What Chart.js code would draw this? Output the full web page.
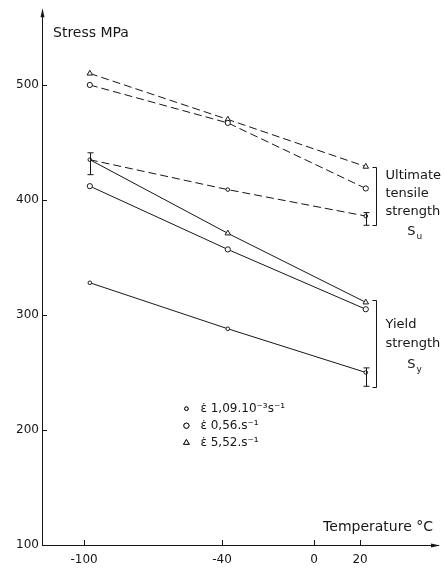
<!DOCTYPE html>
<html>
<head>
<meta charset="utf-8">
<script src="https://cdn.jsdelivr.net/npm/chart.js@4.4.1/dist/chart.umd.min.js"></script>
<style>
  html, body { margin: 0; padding: 0; background: #fff; }
  #wrap { width: 444px; height: 572px; position: relative; }
</style>
</head>
<body>
<div id="wrap"><canvas id="c" width="444" height="572"></canvas></div>
<script>
// Test temperatures (°C)
const temps = [-97.5, -37.5, 22.5];

// Ultimate tensile strength S_u (MPa), one array per strain rate
const utsLow = [435, 409, 386];   // ε̇ 1,09.10⁻³ s⁻¹
const utsMid = [500, 467, 410];   // ε̇ 0,56 s⁻¹
const utsHigh = [510, 470, 429];  // ε̇ 5,52 s⁻¹

// Yield strength S_y (MPa)
const ysLow = [328, 288, 250];
const ysMid = [412, 357, 305];
const ysHigh = [435, 371, 311];

// Scatter bands [low, high] for the slow-rate points
const utsLowBand = [[422, 441], null, [378, 389]];
const ysLowBand = [null, null, [238, 254]];

// Axis ticks
const xTicks = [-100, -40, 0, 20];
const yTicks = [100, 200, 300, 400, 500];

// Legend texts
const rateLabels = ['ε̇ 1,09.10⁻³s⁻¹', 'ε̇ 0,56.s⁻¹', 'ε̇ 5,52.s⁻¹'];

// Brackets grouping the curve families: [from, to] in MPa
const utsBracket = [378, 429];
const ysBracket = [237, 313];

const INK = '#161616';
const FONT = 'DejaVu Sans';

const pts = arr => temps.map((t, i) => ({ x: t, y: arr[i] }));

const styleLow = { pointStyle: 'circle', pointRadius: 1.8 };
const styleMid = { pointStyle: 'circle', pointRadius: 2.6 };
const styleHigh = { pointStyle: 'triangle', pointRadius: 3.2 };

function series(arr, style, dashed, extra) {
  return Object.assign({
    data: pts(arr),
    showLine: true,
    borderColor: INK,
    borderWidth: 1,
    borderDash: dashed ? [8, 4] : [],
    pointBackgroundColor: '#fff',
    pointBorderColor: INK,
    pointBorderWidth: 1,
    fill: false,
    tension: 0
  }, style, extra || {});
}

const datasets = [
  series(utsLow, styleLow, true),
  series(utsMid, styleMid, true),
  series(utsHigh, styleHigh, true),
  series(ysLow, styleLow, false),
  series(ysMid, styleMid, false),
  // the first yield point of the fast series coincides with the slow S_u point
  series(ysHigh, styleHigh, false, { pointRadius: [0, 3.2, 3.2] })
];

function bar(ctx, x, y1, y2) {
  ctx.beginPath();
  ctx.moveTo(x, y1); ctx.lineTo(x, y2);
  ctx.moveTo(x - 3, y1); ctx.lineTo(x + 3, y1);
  ctx.moveTo(x - 3, y2); ctx.lineTo(x + 3, y2);
  ctx.stroke();
}

const ink = {
  id: 'ink',
  afterDatasetsDraw(chart) {
    const { ctx, scales: { x, y }, chartArea: a } = chart;
    ctx.save();
    ctx.strokeStyle = INK;
    ctx.fillStyle = INK;
    ctx.lineWidth = 1;
    ctx.setLineDash([]);

    // scatter bands
    [utsLowBand, ysLowBand].forEach(bands => {
      bands.forEach((b, i) => {
        if (!b) return;
        const px = Math.round(x.getPixelForValue(temps[i])) + 0.5;
        bar(ctx, px, y.getPixelForValue(b[0]), y.getPixelForValue(b[1]));
      });
    });

    // brackets to the right of the last points
    const bx = Math.round(x.getPixelForValue(temps[2])) + 10.5;
    [utsBracket, ysBracket].forEach(br => {
      const y1 = Math.round(y.getPixelForValue(br[0])) + 0.5;
      const y2 = Math.round(y.getPixelForValue(br[1])) + 0.5;
      ctx.beginPath();
      ctx.moveTo(bx - 4, y1); ctx.lineTo(bx, y1); ctx.lineTo(bx, y2); ctx.lineTo(bx - 4, y2);
      ctx.stroke();
    });

    // bracket captions
    ctx.textBaseline = 'middle';
    const tx = bx + 9;
    const cap = (lines, topVal, step) => {
      let ty = y.getPixelForValue(topVal);
      lines.forEach(l => {
        ctx.font = '13px "' + FONT + '"';
        if (typeof l === 'object') {
          ctx.textAlign = 'center';
          ctx.fillText(l.main, tx + 26, ty + 2);
          ctx.font = '9px "' + FONT + '"';
          ctx.textAlign = 'left';
          ctx.fillText(l.sub, tx + 31, ty + 7);
        } else {
          ctx.textAlign = 'left';
          ctx.fillText(l, tx, ty);
          ty += step;
        }
      });
    };
    cap(['Ultimate', 'tensile', 'strength', { main: 'S', sub: 'u' }], 421, 18);
    cap(['Yield', 'strength', { main: 'S', sub: 'y' }], 292, 19);

    // legend
    const lx = x.getPixelForValue(-55.5);
    let ly = y.getPixelForValue(218.5);
    const styles = [styleLow, styleMid, styleHigh];
    ctx.font = '12px "' + FONT + '"';
    ctx.textAlign = 'left';
    rateLabels.forEach((t, i) => {
      Chart.helpers.drawPoint(ctx, {
        pointStyle: styles[i].pointStyle,
        radius: styles[i].pointRadius,
        borderWidth: 1
      }, lx, ly);
      ctx.fillStyle = '#fff';
      ctx.fill();
      ctx.fillStyle = INK;
      ctx.stroke();
      ctx.fillText(t, lx + 14, ly);
      ly += 17;
    });

    // inward tick marks
    yTicks.forEach(v => {
      const py = Math.round(y.getPixelForValue(v)) + 0.5;
      ctx.beginPath(); ctx.moveTo(a.left, py); ctx.lineTo(a.left + 5, py); ctx.stroke();
    });
    xTicks.forEach(v => {
      const px = Math.round(x.getPixelForValue(v)) + 0.5;
      ctx.beginPath(); ctx.moveTo(px, a.bottom); ctx.lineTo(px, a.bottom - 5); ctx.stroke();
    });

    // axis arrowheads
    ctx.beginPath();
    ctx.moveTo(a.left + 0.5, a.top - 2); ctx.lineTo(a.left - 1.5, a.top + 7); ctx.lineTo(a.left + 2.5, a.top + 7); ctx.closePath();
    ctx.fill();
    ctx.beginPath();
    ctx.moveTo(a.right + 2, a.bottom + 0.5); ctx.lineTo(a.right - 7, a.bottom - 1.5); ctx.lineTo(a.right - 7, a.bottom + 2.5); ctx.closePath();
    ctx.fill();

    // axis titles
    ctx.font = '14px "' + FONT + '"';
    ctx.textAlign = 'left';
    ctx.fillText('Stress MPa', a.left + 11, 33);
    ctx.textAlign = 'right';
    ctx.fillText('Temperature °C', a.right - 5, 527);
    ctx.restore();
  }
};

new Chart(document.getElementById('c'), {
  type: 'scatter',
  data: { datasets },
  plugins: [ink],
  options: {
    responsive: false,
    animation: false,
    devicePixelRatio: 1,
    layout: { padding: { top: 5, right: 6, left: 0, bottom: 0 } },
    plugins: { legend: { display: false }, tooltip: { enabled: false } },
    scales: {
      x: {
        type: 'linear',
        min: -118.3,
        max: 53.9,
        afterBuildTicks: s => { s.ticks = xTicks.map(v => ({ value: v })); },
        afterFit: s => { s.height = 27; },
        grid: { display: false, drawTicks: false },
        border: { display: true, color: INK, width: 1 },
        ticks: { color: INK, padding: 8, maxRotation: 0, autoSkip: false, font: { family: FONT, size: 12 } }
      },
      y: {
        type: 'linear',
        min: 100,
        max: 565,
        afterBuildTicks: s => { s.ticks = yTicks.map(v => ({ value: v })); },
        afterFit: s => { s.width = 42; },
        grid: { display: false, drawTicks: false },
        border: { display: true, color: INK, width: 1 },
        ticks: { color: INK, padding: 3, font: { family: FONT, size: 12 } }
      }
    }
  }
});
</script>
</body>
</html>
